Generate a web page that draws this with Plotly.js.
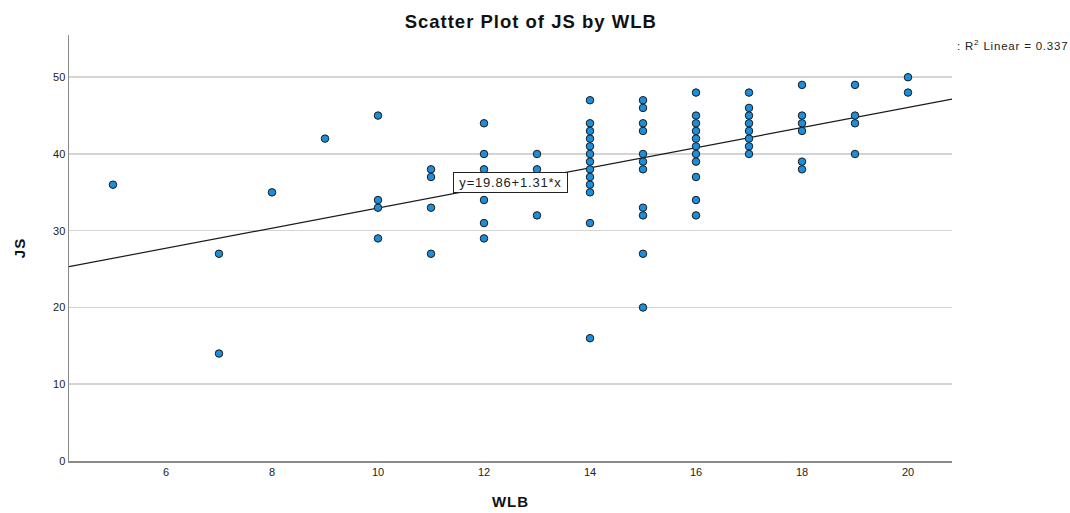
<!DOCTYPE html>
<html>
<head>
<meta charset="utf-8">
<script src="https://cdn.plot.ly/plotly-3.0.1.min.js"></script>
<style>
html,body{margin:0;padding:0;background:#fff;}
#chart{width:1070px;height:513px;}
.gtitle{letter-spacing:1px;}
.xtitle,.ytitle{letter-spacing:1px;}
.annotation-text{letter-spacing:0.8px;}
</style>
</head>
<body>
<div id="chart"></div>
<script>
// WLB values (x) and JS values (y), one point per respondent
var wlb = [
  5,
  7, 7,
  8,
  9,
  10, 10, 10, 10,
  11, 11, 11, 11,
  12, 12, 12, 12, 12, 12,
  13, 13, 13,
  14, 14, 14, 14, 14, 14, 14, 14, 14, 14, 14, 14, 14,
  15, 15, 15, 15, 15, 15, 15, 15, 15, 15, 15,
  16, 16, 16, 16, 16, 16, 16, 16, 16, 16, 16,
  17, 17, 17, 17, 17, 17, 17, 17,
  18, 18, 18, 18, 18, 18,
  19, 19, 19, 19,
  20, 20
];
var js = [
  36,
  27, 14,
  35,
  42,
  45, 34, 33, 29,
  38, 37, 33, 27,
  44, 40, 38, 34, 31, 29,
  40, 38, 32,
  47, 44, 43, 42, 41, 40, 39, 38, 37, 36, 35, 31, 16,
  47, 46, 44, 43, 40, 39, 38, 33, 32, 27, 20,
  48, 45, 44, 43, 42, 41, 40, 39, 37, 34, 32,
  48, 46, 45, 44, 43, 42, 41, 40,
  49, 45, 44, 43, 39, 38,
  49, 45, 44, 40,
  50, 48
];
var fitIntercept = 19.86;
var fitSlope = 1.31;
var rSquared = 0.337;
var xRange = [4.17, 20.83];
var yRange = [0, 55.5];
var xTicks = [6, 8, 10, 12, 14, 16, 18, 20];
var yTicks = [0, 10, 20, 30, 40, 50];

var fitX = [xRange[0], xRange[1]];
var fitY = fitX.map(function (v) { return fitIntercept + fitSlope * v; });

var font = "Liberation Sans, Arial, Helvetica, sans-serif";

var traces = [
  {
    x: fitX, y: fitY, type: 'scatter', mode: 'lines',
    line: {color: '#1a1a1a', width: 1.2},
    hoverinfo: 'skip', showlegend: false
  },
  {
    x: wlb, y: js, type: 'scatter', mode: 'markers',
    marker: {size: 7.5, color: '#1b8fdc', line: {color: '#1a1a1a', width: 1}},
    hoverinfo: 'skip', showlegend: false
  }
];

var layout = {
  width: 1070, height: 513,
  margin: {l: 69, r: 118, t: 35, b: 52, pad: 0},
  paper_bgcolor: '#ffffff', plot_bgcolor: '#ffffff',
  font: {family: font, size: 11, color: '#222'},
  title: {text: '<b>Scatter Plot of JS by WLB</b>', font: {family: font, size: 18.5, color: '#111'},
          x: 0.496, xanchor: 'center', y: 0.958, yanchor: 'middle'},
  xaxis: {
    range: xRange, tickvals: xTicks, ticktext: xTicks.map(String),
    showgrid: false, zeroline: false, showline: true, linecolor: '#8a8a8a', linewidth: 1.5,
    ticks: '', tickfont: {family: font, size: 11, color: '#222'},
    title: {text: '<b>WLB</b>', font: {family: font, size: 15, color: '#111'}, standoff: 20}
  },
  yaxis: {
    range: yRange, tickvals: yTicks, ticktext: yTicks.map(String),
    showgrid: true, gridcolor: '#d4d4d4', gridwidth: 1.5,
    zeroline: false, showline: true, linecolor: '#8a8a8a', linewidth: 1.5,
    ticks: '', tickfont: {family: font, size: 11, color: '#222'},
    title: {text: '<b>JS</b>', font: {family: font, size: 15, color: '#111'}, standoff: 24}
  },
  annotations: [
    {
      x: 12.50, y: 36.3, xref: 'x', yref: 'y',
      text: 'y=' + fitIntercept.toFixed(2) + '+' + fitSlope.toFixed(2) + '*x',
      showarrow: false, xanchor: 'center', yanchor: 'middle',
      width: 113, height: 19, align: 'center', valign: 'middle',
      font: {family: font, size: 13, color: '#222'},
      bgcolor: '#ffffff', bordercolor: '#222', borderwidth: 1, borderpad: 0
    },
    {
      x: 1.0034, y: 0.9765, xref: 'paper', yref: 'paper',
      text: ': R<sup>2</sup> Linear = ' + rSquared.toFixed(3),
      showarrow: false, xanchor: 'left', yanchor: 'middle',
      font: {family: font, size: 11.5, color: '#222'}
    }
  ]
};

Plotly.newPlot('chart', traces, layout, {displayModeBar: false, staticPlot: true});
</script>
</body>
</html>
